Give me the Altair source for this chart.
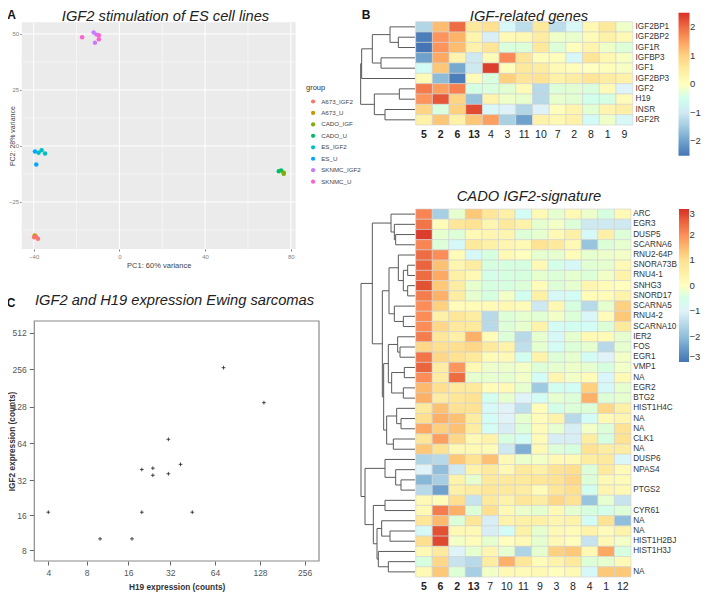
import altair as alt
import pandas as pd

FONT = "Liberation Sans"
W, H = 693, 586
def T(v):
    return v - 8

# ---------- Panel A ----------
group_names = ["A673_IGF2", "A673_U", "CADO_IGF", "CADO_U", "ES_IGF2", "ES_U", "SKNMC_IGF2", "SKNMC_U"]
group_colors = ["#F8766D", "#CD9600", "#7CAE00", "#00BE67", "#00BFC4", "#00A9FF", "#C77CFF", "#FF61CC"]
pca_group = ["A673_U", "A673_IGF2", "A673_IGF2", "A673_IGF2", "CADO_U", "CADO_U", "CADO_IGF", "CADO_IGF",
             "ES_IGF2", "ES_IGF2", "ES_IGF2", "ES_U", "ES_U",
             "SKNMC_IGF2", "SKNMC_IGF2", "SKNMC_IGF2", "SKNMC_U", "SKNMC_U", "SKNMC_U"]
pca_x = [-39.5, -39.8, -38.9, -38.0, 74.4, 75.5, 76.7, 76.7, -37.7, -36.3, -34.7, -39.4, -38.8,
         -12.0, -10.7, -11.4, -17.4, -9.6, -9.6]
pca_y = [-40.0, -40.8, -40.5, -41.4, -11.3, -10.9, -11.9, -12.4, -3.0, -1.9, -3.4, -2.5, -8.3,
         50.6, 49.7, 46.1, 48.5, 49.4, 47.6]
a_x_major = [-40, 0, 40, 80]
a_x_minor = [-20, 20, 60]
a_y_major = [-25, 0, 25, 50]
a_y_minor = [-37.5, -12.5, 12.5, 37.5]
a_xlim = [-45.6, 82.3]
a_ylim = [-46, 55.2]

# ---------- Panel C ----------
h19_counts = [4, 10, 17, 20, 20, 24, 24, 31, 31, 37.5, 45, 73, 136]
igf2_counts = [17, 10, 10, 17, 39, 40, 35, 36, 69, 43, 17, 264, 138]
c_x_ticks = [4, 8, 16, 32, 64, 128, 256]
c_y_ticks = [8, 16, 32, 64, 128, 256, 512]
c_x_domain = [3.1, 4, 8, 16, 32, 64, 128, 256, 320]
c_x_range = [34.3, 48.3, 86.7, 128.3, 170.3, 215, 260, 304.7, 319]
c_y_domain = [6.4, 8, 16, 32, 64, 128, 256, 512, 639]
c_y_range = [561, 550, 515.3, 480, 443.3, 406.7, 369.3, 332.7, 321]

# ---------- Heatmap colours ----------
rdylbu = ["#4575B4", "#91BFDB", "#E0F3F8", "#FFFFBF", "#FEE090", "#FC8D59", "#D73027"]

# ---------- Panel B top ----------
b1_rows = ["IGF2BP1", "IGF2BP2", "IGF1R", "IGFBP3", "IGF1", "IGF2BP3", "IGF2", "H19", "INSR", "IGF2R"]
b1_cols = ["5", "2", "6", "13", "4", "3", "11", "10", "7", "2", "8", "1", "9"]
b1_vals = [
    [-1.3, 1.2, 2.0, 0.6, 0.8, -0.7, -1.2, 0.6, -1.2, -0.7, 0.2, 0.6, -0.1],
    [-2.4, 1.6, 1.3, 0.3, -0.9, 0.15, 0.2, 0.5, -0.1, -0.15, 0.1, 0.4, 0.15],
    [-2.5, 1.6, 1.2, 0.35, 0.7, -0.3, -0.25, 0.6, -0.25, 0.05, 0.3, -0.1, -0.25],
    [-2.0, 1.4, 0.3, -1.0, 0.1, 1.7, 0.7, 0.05, 0.05, -0.7, 0.7, 0.2, -0.05],
    [-0.6, 1.1, -1.9, -1.0, 2.4, 0.05, 0.6, 0.5, 0.15, 0.05, 0.0, 0.05, -0.05],
    [0.1, -1.7, -2.4, 0.1, -0.3, 1.0, 0.7, 0.75, 0.4, 0.5, 0.7, 0.5, 0.4],
    [1.85, 1.5, 1.8, -0.35, -0.3, -0.2, 0.1, -1.25, -0.25, -0.2, -0.3, 0.1, -0.8],
    [1.6, 2.2, 0.95, -1.6, 0.3, -0.1, -0.15, -1.25, -0.15, -0.2, -0.45, -0.35, 0.1],
    [0.95, -0.3, 1.0, 2.3, -0.7, -0.85, -1.3, -0.85, 0.05, 0.3, -0.2, 0.3, 0.45],
    [0.4, 1.1, 0.4, 1.1, 1.5, -1.4, -2.0, 0.35, 0.2, 0.4, -0.6, -0.1, -0.7],
]
b1_merges = [(1, 2, 50), (0, "n0", 75), (3, 4, 102), ("n1", "n2", 128), ("n3", 5, 160),
             (6, 7, 47), (8, 9, 90), ("n5", "n6", 122), ("n4", "n7", 163)]
b1_ticks = [-2, -1, 0, 1, 2]

# ---------- Panel B bottom ----------
b2_rows = ["ARC", "EGR3", "DUSP5", "SCARNA6", "RNU2-64P", "SNORA73B", "RNU4-1", "SNHG3", "SNORD17", "SCARNA5",
           "RNU4-2", "SCARNA10", "IER2", "FOS", "EGR1", "VMP1", "NA", "EGR2", "BTG2", "HIST1H4C", "NA", "NA",
           "CLK1", "NA", "DUSP6", "NPAS4", "", "PTGS2", "", "CYR61", "NA", "NA", "HIST1H2BJ", "HIST1H3J", "", "NA"]
b2_cols = ["5", "6", "2", "13", "7", "10", "11", "9", "3", "8", "4", "1", "12"]
b2_vals = [
    [2.1, -1.7, -0.2, 1.3, 0.8, 0.5, -0.7, 0.2, -0.2, 0.2, -0.15, -0.4, 0.2],
    [2.3, 0.1, 0.8, 0.9, 0.3, 0.7, 0.4, -0.2, -0.1, -0.3, -1.2, -1.2, -1.2],
    [2.9, -0.2, -0.3, 0.2, 0.3, 0.3, -0.3, -0.2, 0.2, 0.5, -0.8, 0.5, -0.3],
    [2.1, -0.3, -0.8, 0.7, 0.5, 0.3, 0.2, 0.9, 0.7, 0.2, -1.9, -0.3, -0.2],
    [2.4, 2.0, 0.1, -0.8, -0.4, 0.2, 0.0, -0.2, -0.2, 0.1, -0.2, -0.15, -0.1],
    [2.5, 1.4, 0.3, 0.6, -0.4, -0.4, -0.4, 0.2, -0.5, -0.8, -0.25, -0.2, 0.2],
    [2.4, 1.7, 0.5, 0.2, -0.5, -0.4, -0.4, -0.2, -0.3, -0.2, -0.3, -0.1, 0.4],
    [2.7, 1.3, 0.6, -0.2, -0.4, -0.4, -0.3, 0.1, -0.3, -0.2, 0.3, 0.1, 0.05],
    [2.2, 1.6, 0.6, -0.2, -0.4, -0.1, -0.6, 0.5, -0.8, -0.7, 0.1, 0.1, 0.4],
    [2.0, 1.2, 0.1, 0.1, 0.15, 0.25, 0.15, -1.2, 0.25, -0.4, -1.5, -0.2, 1.2],
    [2.0, 0.5, 0.8, 0.6, -1.5, -0.3, -0.2, -0.25, -0.1, -0.3, -0.9, 0.1, 1.3],
    [2.0, 1.1, 0.7, 0.7, -1.5, -0.3, -0.2, 0.4, -0.7, -0.6, -0.7, -0.3, 0.7],
    [2.2, 0.8, 0.5, 1.6, 0.1, -0.3, -1.5, -0.2, -0.8, -0.2, 0.2, 0.1, -0.2],
    [1.1, 1.0, 1.0, 1.1, 0.7, 0.4, -1.4, -0.2, -0.7, -0.3, -0.2, -1.5, -0.2],
    [2.3, 1.1, 0.9, 0.7, 0.15, 0.2, -0.6, 0.4, -0.3, -0.2, -0.7, -1.0, -0.1],
    [2.5, 0.6, 1.9, 0.2, -0.15, -0.15, -0.1, -0.3, -0.2, -0.15, -0.2, -0.4, -0.1],
    [2.0, 0.6, 2.4, -0.2, -0.2, -0.2, -0.1, -0.7, 0.3, -0.1, 0.1, -0.9, 0.2],
    [1.5, 1.0, 0.7, 0.7, 0.1, 0.2, -0.2, -1.8, -0.6, -0.7, 1.2, -0.8, -0.2],
    [1.6, 0.6, 0.8, 0.9, -0.6, -0.2, -1.0, -0.7, -0.2, -0.3, 1.6, -0.3, -0.2],
    [0.7, 1.4, 0.9, 0.9, -0.8, -1.0, -1.4, 0.1, -0.5, -0.3, -0.3, 1.1, 0.5],
    [1.0, 1.6, 1.4, 0.6, -0.7, -1.0, -0.2, 0.1, 0.4, -1.5, -0.7, 0.2, 0.3],
    [1.7, 1.2, 1.4, 0.6, -0.7, -1.1, -0.3, 0.1, -0.2, -1.1, -0.1, -0.3, 0.9],
    [0.8, 1.8, 1.1, 0.2, 0.4, -0.4, -0.7, 0.15, -1.1, -1.1, 0.6, -0.4, 0.9],
    [1.3, 0.9, 0.2, 0.2, 0.1, -1.2, -2.2, 0.2, -0.3, -0.4, 0.9, 0.6, 0.6],
    [-1.6, -1.5, 1.3, 0.9, 1.4, 0.2, -0.15, -0.1, 0.2, 0.2, 0.6, 0.7, -0.9],
    [-1.0, -2.0, -1.2, 0.4, 0.7, 0.2, 0.7, 0.5, 0.9, 1.0, -0.3, 0.7, 0.15],
    [-2.1, -1.7, 0.4, -0.2, 0.7, 0.7, 0.7, 0.8, 0.9, 1.1, -0.3, 0.2, 0.15],
    [-1.5, -2.4, 0.5, 0.6, 0.8, 0.7, 0.6, 0.1, 0.8, 1.0, -0.6, 0.3, 0.2],
    [0.2, 0.1, 1.0, -1.3, 0.7, 0.4, 0.8, 0.6, 1.1, 0.9, -1.9, -0.2, -1.3],
    [0.2, 2.2, 1.6, -0.3, 1.0, 0.2, -0.15, -0.2, 0.2, -0.2, -0.4, -0.5, -0.3],
    [0.8, 1.5, -0.3, 0.8, -1.1, 0.4, 0.5, 0.5, 0.3, 0.4, -0.7, 0.9, -2.0],
    [-0.8, 2.7, 0.2, 0.2, -1.1, -0.7, 0.5, -0.2, 0.2, 0.15, 0.4, 0.15, 0.4],
    [1.0, 2.8, -0.1, 0.1, -0.2, 0.05, 0.2, -0.2, 0.2, 0.05, -1.3, 0.2, -0.1],
    [0.2, 0.7, -1.0, -0.2, 0.3, -0.2, -1.6, -0.2, 1.2, 1.3, 0.2, 1.7, -0.4],
    [-0.4, 1.1, -1.3, -1.5, 0.6, 1.6, 0.8, 0.1, 0.4, 0.7, -0.3, -0.2, 0.2],
    [0.2, 1.3, -0.3, -1.7, -0.1, 0.2, 0.15, 0.2, 0.05, 0.2, -0.8, 1.3, 1.3],
]
b2_merges = [
    (2, 3, 58), (1, "n0", 62), (0, "n1", 72), (5, 6, 22), (7, 8, 22), ("n3", "n4", 35), (4, "n5", 50),
    (10, 11, 35), (9, "n7", 62), ("n6", "n8", 78), (13, 14, 45), (12, "n10", 52), (15, 16, 32), (17, 18, 35),
    ("n12", "n13", 70), ("n11", "n14", 80), (20, 21, 42), (19, "n16", 55), (22, 23, 65), ("n17", "n18", 85),
    ("n15", "n19", 94), ("n9", "n20", 98), ("n2", "n21", 128), (26, 27, 42), (25, "n23", 58), (24, "n24", 90),
    (28, 29, 90), (31, 32, 75), (30, "n27", 100), (34, 35, 80), (33, "n29", 110), ("n28", "n30", 114),
    ("n26", "n31", 125), ("n25", "n32", 150), ("n22", "n33", 162),
]
b2_ticks = [-3, -2, -1, 0, 1, 2, 3]

titles = [
    ("IGF2 stimulation of ES cell lines", 165.5, 21),
    ("IGF-related genes", 529, 21),
    ("CADO IGF2-signature", 529, 201),
    ("IGF2 and H19 expression Ewing sarcomas", 174.5, 305),
]
panel_letters = [("A", 11.5, 19), ("B", 366, 19), ("C", 11, 307)]


def frame(**cols):
    return pd.DataFrame(cols)


layers = []

# ---------- A ----------
ax = alt.Scale(domain=a_xlim, range=[T(21.7), T(295.7)], nice=False, zero=False)
ay = alt.Scale(domain=a_ylim, range=[T(249), T(22.3)], nice=False, zero=False)
layers.append(alt.Chart(frame(x0=[a_xlim[0]], x1=[a_xlim[1]], y0=[a_ylim[0]], y1=[a_ylim[1]]))
              .mark_rect(color="#EBEBEB")
              .encode(x=alt.X("x0:Q", scale=ax, axis=None), x2="x1:Q",
                      y=alt.Y("y0:Q", scale=ay, axis=None), y2="y1:Q"))
for vals, w in ((a_x_minor, 0.5), (a_x_major, 1)):
    d = frame(x=vals, y0=[a_ylim[0]] * len(vals), y1=[a_ylim[1]] * len(vals))
    layers.append(alt.Chart(d).mark_rule(color="white", strokeWidth=w)
                  .encode(x=alt.X("x:Q", scale=ax, axis=None), y=alt.Y("y0:Q", scale=ay, axis=None), y2="y1:Q"))
for vals, w in ((a_y_minor, 0.5), (a_y_major, 1)):
    d = frame(y=vals, x0=[a_xlim[0]] * len(vals), x1=[a_xlim[1]] * len(vals))
    layers.append(alt.Chart(d).mark_rule(color="white", strokeWidth=w)
                  .encode(y=alt.Y("y:Q", scale=ay, axis=None), x=alt.X("x0:Q", scale=ax, axis=None), x2="x1:Q"))
layers.append(
    alt.Chart(frame(x=pca_x, y=pca_y, group=pca_group))
    .mark_circle(size=20, opacity=1)
    .encode(
        x=alt.X("x:Q", scale=ax, axis=alt.Axis(
            orient="bottom", offset=T(249) - H, values=a_x_major, grid=False, domain=False, tickSize=2,
            tickColor="#7f7f7f", labelColor="#7f7f7f", labelFontSize=6, labelPadding=2,
            title="PC1: 60% variance", titleFontSize=7.5, titleFontWeight="normal", titleColor="#444",
            titlePadding=2, format="d")),
        y=alt.Y("y:Q", scale=ay, axis=alt.Axis(
            orient="left", offset=-T(21.7), values=a_y_major, grid=False, domain=False, tickSize=2,
            tickColor="#7f7f7f", labelColor="#7f7f7f", labelFontSize=6, labelPadding=1,
            title="PC2: 28% variance", titleFontSize=7, titleFontWeight="normal", titleColor="#444",
            titleX=-T(21.7) + 7.5, format="d")),
        color=alt.Color("group:N",
                        scale=alt.Scale(domain=group_names, range=group_colors),
                        legend=alt.Legend(orient="none", legendX=T(306), legendY=T(84), title="group",
                                          titleFontSize=7.5, titleFontWeight="normal", titleColor="#333",
                                          labelFontSize=6.2, labelColor="#444", symbolSize=18, symbolType="circle",
                                          clipHeight=11, rowPadding=0.45, padding=0, titlePadding=4.5,
                                          labelOffset=5, symbolOffset=4, symbolOpacity=1)),
    )
)

# ---------- C ----------
cx = alt.Scale(type="log", base=2, domain=c_x_domain, range=[T(v) for v in c_x_range], nice=False)
cy = alt.Scale(type="log", base=2, domain=c_y_domain, range=[T(v) for v in c_y_range], nice=False)
layers.append(alt.Chart(frame(x0=[c_x_domain[0]], x1=[c_x_domain[-1]], y0=[c_y_domain[0]], y1=[c_y_domain[-1]]))
              .mark_rect(fill="white", stroke="#8a8a8a", strokeWidth=1.2)
              .encode(x=alt.X("x0:Q", scale=cx, axis=None), x2="x1:Q",
                      y=alt.Y("y0:Q", scale=cy, axis=None), y2="y1:Q"))
layers.append(
    alt.Chart(frame(h19=h19_counts, igf2=igf2_counts))
    .mark_point(shape="M-1,0H1M0,-1V1", filled=False, size=14, color="#222", strokeWidth=0.8, opacity=1)
    .encode(
        x=alt.X("h19:Q", scale=cx, axis=alt.Axis(
            orient="bottom", offset=T(561) - H, values=c_x_ticks, grid=False, domain=False, tickSize=4,
            tickColor="#666", labelColor="#555", labelFontSize=8.5, labelPadding=3, format="d",
            title="H19 expression (counts)", titleFontSize=8.3, titleFontWeight="bold", titleColor="#333",
            titlePadding=6)),
        y=alt.Y("igf2:Q", scale=cy, axis=alt.Axis(
            orient="left", offset=-T(34.3), values=c_y_ticks, grid=False, domain=False, tickSize=5,
            tickColor="#666", labelColor="#555", labelFontSize=8.5, labelPadding=3, format="d",
            title="IGF2 expression (counts)", titleFontSize=8.3, titleFontWeight="bold", titleColor="#333",
            titleX=-T(34.3) + 8)),
    )
)


# ---------- heatmaps ----------
def heatmap(vals, rows, cols, merges, left, right, top, bottom, limit, ticks, lab_left, bar_x, bar_top, bar_len, bar_w):
    n = len(rows)
    recs = [dict(r=i, c=j, v=v) for i, row in enumerate(vals) for j, v in enumerate(row)]
    xs = alt.Scale(type="band", domain=list(range(13)), range=[T(left), T(right)], paddingInner=0, paddingOuter=0, round=False)
    ys = alt.Scale(type="band", domain=list(range(n)), range=[T(top), T(bottom)], paddingInner=0, paddingOuter=0, round=False)
    col_labels = "[" + ",".join(f"'{c}'" for c in cols) + "]"
    row_labels = "[" + ",".join(f"'{c}'" for c in rows) + "]"
    stops = [limit * k / 3 for k in range(-3, 4)]
    out = [alt.Chart(pd.DataFrame(recs)).mark_rect(stroke="#d2d2d2", strokeWidth=0.6).encode(
        x=alt.X("c:O", scale=xs, axis=alt.Axis(
            orient="bottom", offset=T(bottom) - H, domain=False, ticks=False, grid=False, title=None,
            labelAngle=0, labelExpr=f"{col_labels}[+datum.value]", labelFontSize=10.5, labelColor="#222",
            labelPadding=4, labelOverlap=False,
            labelFontWeight={"condition": {"test": "+datum.value<4", "value": "bold"}, "value": "normal"})),
        y=alt.Y("r:O", scale=ys, axis=alt.Axis(
            orient="right", offset=T(lab_left) - 2 - W, domain=False, ticks=False, grid=False, title=None,
            labelExpr=f"{row_labels}[+datum.value]", labelFontSize=8.2, labelColor="#333", labelPadding=2,
            labelOverlap=False, labelBound=False)),
        color=alt.Color("v:Q", scale=alt.Scale(domain=stops, range=rdylbu),
                        legend=alt.Legend(orient="none", legendX=T(bar_x), legendY=T(bar_top), title=None,
                                          type="gradient", direction="vertical", gradientLength=bar_len,
                                          gradientThickness=bar_w, values=ticks, tickCount=len(ticks), padding=0,
                                          labelFontSize=9.5, labelColor="#333", labelOverlap=False,
                                          gradientStrokeWidth=0, labelOffset=0.5, format="d")),
    )]
    # dendrogram geometry from the merge list
    ypos, hgt, hseg, vseg = [], [], [], []
    def get(k):
        if isinstance(k, str):
            i = int(k[1:])
            return ypos[i], hgt[i]
        return k, 0
    for a, b, h in merges:
        ya, ha = get(a)
        yb, hb = get(b)
        hseg += [dict(h0=h, h1=ha, r=ya), dict(h0=h, h1=hb, r=yb)]
        vseg.append(dict(h=h, r0=ya, r1=yb))
        ypos.append((ya + yb) / 2)
        hgt.append(h)
    dx = alt.Scale(domain=[0, 180], range=[T(left - 0.7), T(left - 60.7)], nice=False, zero=False)
    dy = alt.Scale(domain=[-0.5, n - 0.5], range=[T(top), T(bottom)], nice=False, zero=False)
    out.append(alt.Chart(pd.DataFrame(hseg)).mark_rule(color="#5a5a5a", strokeWidth=1).encode(
        x=alt.X("h0:Q", scale=dx, axis=None), x2="h1:Q", y=alt.Y("r:Q", scale=dy, axis=None)))
    out.append(alt.Chart(pd.DataFrame(vseg)).mark_rule(color="#5a5a5a", strokeWidth=1).encode(
        x=alt.X("h:Q", scale=dx, axis=None), y=alt.Y("r0:Q", scale=dy, axis=None), y2="r1:Q"))
    return out


layers += heatmap(b1_vals, b1_rows, b1_cols, b1_merges, 415.7, 632.7, 21.7, 125, 2.5, b1_ticks,
                  635, 678.5, 12.7, 143, 11)
layers += heatmap(b2_vals, b2_rows, b2_cols, b2_merges, 415.7, 631, 209, 577, 3, b2_ticks,
                  632.7, 679, 209, 153, 10)

# ---------- titles ----------
for text, x, y in titles:
    layers.append(alt.Chart(frame(t=[text])).mark_text(
        font=FONT, fontStyle="italic", fontSize=14.7, color="#222", align="center", baseline="alphabetic"
    ).encode(x=alt.value(T(x)), y=alt.value(T(y)), text="t:N"))
for text, x, y in panel_letters:
    layers.append(alt.Chart(frame(t=[text])).mark_text(
        font=FONT, fontWeight="bold", fontSize=12, color="#111", align="center", baseline="alphabetic"
    ).encode(x=alt.value(T(x)), y=alt.value(T(y)), text="t:N"))

chart = (
    alt.layer(*layers)
    .resolve_scale(x="independent", y="independent", color="independent")
    .properties(width=W, height=H, padding=0, autosize=alt.AutoSizeParams(type="none"), background="white")
    .configure_view(stroke=None)
    .configure_axis(labelFont=FONT, titleFont=FONT)
    .configure_legend(labelFont=FONT, titleFont=FONT)
)
chart.save("out.html", embed_options={"renderer": "svg", "actions": False})
